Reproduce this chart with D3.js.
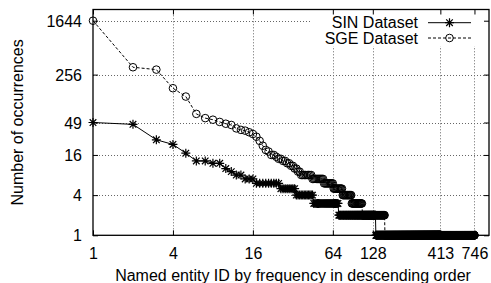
<!DOCTYPE html>
<html>
<head>
<meta charset="utf-8">
<script src="https://cdn.jsdelivr.net/npm/d3@7"></script>
<style>
  body { margin: 0; background: #fff; }
  text { font-family: "Liberation Sans", Arial, Helvetica, sans-serif; font-size: 16px; fill: #000; }
</style>
</head>
<body>
<script>
// rank/frequency values
// top ranks one by one, then the flat tail as [occurrences, how many entities]
const sinHead = [49, 46, 27, 23, 17, 13, 13, 12, 12, 10, 9, 8, 8, 7, 7, 7];
const sinRuns = [[6, 9], [5, 8], [4, 12], [3, 25], [2, 64], [1, 279]];

const sgeHead = [1644, 330, 304, 160, 120, 66, 57, 54, 50, 47, 45, 40, 38, 37, 35, 33, 30, 26,
    22, 19, 18, 16, 16, 15, 14, 14, 13, 13, 12, 12, 11, 11, 10, 10, 9, 9];
const sgeRuns = [[8, 8], [7, 10], [6, 10], [5, 11], [4, 13], [3, 18], [2, 51], [1, 589]];

const xTicks = [1, 4, 16, 64, 128, 413, 746];
const yTicks = [1, 4, 16, 49, 256, 1644];
const seriesNames = ["SIN Dataset", "SGE Dataset"];

let expand = function (head, runs) {
    let vals = head.slice();
    for (let r of runs) {
        for (let i = 0; i < r[1]; i++) vals.push(r[0]);
    }
    return vals.map((v, i) => ({rank: i + 1, count: v}));
};

let sin = expand(sinHead, sinRuns);
let sge = expand(sgeHead, sgeRuns);

let width = 491, height = 283;
let margin = {top: 9.5, right: 2, bottom: 47.7, left: 93};

let svg = d3.select("body").append("svg")
    .attr("width", width)
    .attr("height", height);

let x = d3.scaleLog().base(2).domain([1, 960]).range([margin.left, width - margin.right]);
let y = d3.scaleLog().base(2).domain([1, 2420]).range([height - margin.bottom, margin.top]);

let x0 = x.range()[0], x1 = x.range()[1], y0 = y.range()[0], y1 = y.range()[1];

// dotted grid
let grid = svg.append("g").attr("stroke", "#666").attr("stroke-width", 1).attr("stroke-dasharray", "1,2");
grid.selectAll("line.gx").data(xTicks.slice(1)).enter().append("line")
    .attr("x1", d => Math.round(x(d)) + 0.5).attr("x2", d => Math.round(x(d)) + 0.5)
    .attr("y1", y0).attr("y2", y1);
grid.selectAll("line.gy").data(yTicks.slice(1)).enter().append("line")
    .attr("x1", x0).attr("x2", x1)
    .attr("y1", d => Math.round(y(d)) + 0.5).attr("y2", d => Math.round(y(d)) + 0.5);

// opaque key box
svg.append("rect")
    .attr("x", 310).attr("y", y1)
    .attr("width", x1 - 310).attr("height", 37)
    .attr("fill", "#fff");

// axes: inward ticks on all four sides
let tl = 5;
let bottomAxis = d3.axisBottom(x).tickValues(xTicks).tickSize(-tl).tickPadding(12).tickFormat(d3.format("d"));
let topAxis = d3.axisTop(x).tickValues(xTicks).tickSize(-tl).tickFormat("");
let leftAxis = d3.axisLeft(y).tickValues(yTicks).tickSize(-tl).tickPadding(11).tickFormat(d3.format("d"));
let rightAxis = d3.axisRight(y).tickValues(yTicks).tickSize(-tl).tickFormat("");

let styleAxis = function (g) {
    g.select(".domain").remove();
    g.selectAll("line").attr("stroke", "#000");
    g.selectAll("text").attr("font-size", 16).attr("font-family", null);
};
svg.append("g").attr("transform", `translate(0,${y0})`).call(bottomAxis).call(styleAxis);
svg.append("g").attr("transform", `translate(0,${y1})`).call(topAxis).call(styleAxis);
svg.append("g").attr("transform", `translate(${x0},0)`).call(leftAxis).call(styleAxis)
    .selectAll("text").attr("dy", "0.35em");
svg.append("g").attr("transform", `translate(${x1},0)`).call(rightAxis).call(styleAxis);

svg.append("rect")
    .attr("x", x0).attr("y", y1)
    .attr("width", x1 - x0).attr("height", y0 - y1)
    .attr("fill", "none").attr("stroke", "#000").attr("stroke-width", 1.3);

// axis titles
svg.append("text")
    .attr("x", (x0 + x1) / 2 + 2).attr("y", 281)
    .attr("text-anchor", "middle")
    .text("Named entity ID by frequency in descending order");
svg.append("text")
    .attr("transform", `translate(23,${(y0 + y1) / 2}) rotate(-90)`)
    .attr("text-anchor", "middle")
    .text("Number of occurrences");

// markers
let starPath = "M-4.5,0H4.5M0,-4.5V4.5M-3.3,-3.3L3.3,3.3M-3.3,3.3L3.3,-3.3";

let line = d3.line().x(d => x(d.rank)).y(d => y(d.count));

svg.append("path").datum(sge)
    .attr("d", line).attr("fill", "none").attr("stroke", "#000")
    .attr("stroke-width", 1).attr("stroke-dasharray", "3,2");
svg.append("path").datum(sin)
    .attr("d", line).attr("fill", "none").attr("stroke", "#000").attr("stroke-width", 1);

svg.append("g").selectAll("circle").data(sge).enter().append("circle")
    .attr("cx", d => x(d.rank)).attr("cy", d => y(d.count))
    .attr("r", 3.8).attr("fill", "none").attr("stroke", "#000").attr("stroke-width", 1);
svg.append("g").selectAll("path").data(sin).enter().append("path")
    .attr("transform", d => `translate(${x(d.rank)},${y(d.count)})`)
    .attr("d", starPath).attr("fill", "none").attr("stroke", "#000").attr("stroke-width", 1.2);

// legend
let legend = svg.append("g");
let ly = [22.7, 38];
legend.selectAll("text").data(seriesNames).enter().append("text")
    .attr("x", 418).attr("y", (d, i) => ly[i] + 5.5)
    .attr("text-anchor", "end")
    .text(d => d);
legend.append("line").attr("x1", 428).attr("x2", 471).attr("y1", ly[0]).attr("y2", ly[0])
    .attr("stroke", "#000");
legend.append("path").attr("transform", `translate(449.5,${ly[0]})`).attr("d", starPath)
    .attr("fill", "none").attr("stroke", "#000").attr("stroke-width", 1.2);
legend.append("line").attr("x1", 428).attr("x2", 471).attr("y1", ly[1]).attr("y2", ly[1])
    .attr("stroke", "#000").attr("stroke-dasharray", "3,2");
legend.append("circle").attr("cx", 449.5).attr("cy", ly[1]).attr("r", 3.8)
    .attr("fill", "none").attr("stroke", "#000");
</script>
</body>
</html>
